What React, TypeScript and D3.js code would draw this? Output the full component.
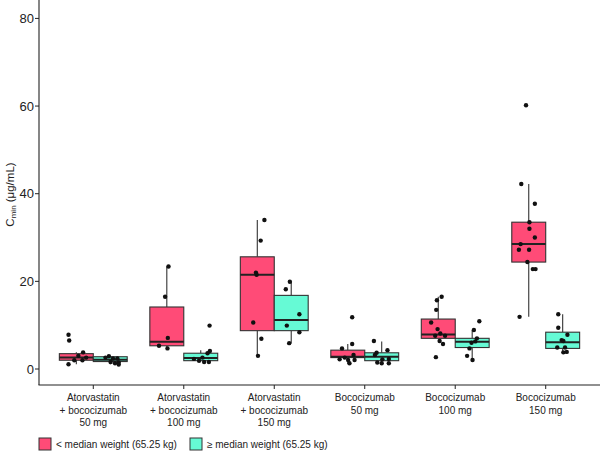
import React from "react";
import * as d3 from "d3";

const categories: string[][] = [
  ["Atorvastatin", "+ bococizumab", "50 mg"],
  ["Atorvastatin", "+ bococizumab", "100 mg"],
  ["Atorvastatin", "+ bococizumab", "150 mg"],
  ["Bococizumab", "50 mg"],
  ["Bococizumab", "100 mg"],
  ["Bococizumab", "150 mg"],
];

const seriesNames = ["< median weight (65.25 kg)", "≥ median weight (65.25 kg)"];
const seriesColors = ["#FF4B77", "#66FAD5"];

// [q1, median, q3, whiskerLow, whiskerHigh]
const lowStats: number[][] = [
  [2.0, 2.6, 3.5, 1.1, 3.8],
  [5.3, 6.2, 14.15, 4.7, 23.4],
  [8.75, 21.5, 25.6, 3.0, 34.0],
  [2.6, 2.8, 4.3, 1.3, 5.7],
  [7.0, 7.9, 11.4, 7.0, 16.5],
  [24.4, 28.5, 33.5, 11.9, 42.2],
];
const highStats: number[][] = [
  [1.7, 2.1, 2.8, 1.1, 3.0],
  [1.9, 2.5, 3.6, 1.8, 4.3],
  [8.75, 11.2, 16.8, 5.9, 19.9],
  [1.9, 2.8, 3.7, 1.3, 6.3],
  [4.9, 6.2, 7.0, 2.05, 8.9],
  [4.7, 6.1, 8.4, 3.7, 12.5],
];

// individual observations
const lowValues: number[][] = [
  [7.8, 6.5, 1.1, 3.8, 3.0, 2.0, 2.0, 2.6],
  [23.4, 16.5, 7.1, 5.3, 4.7],
  [34.0, 29.3, 22.0, 21.5, 10.6, 6.9, 3.0],
  [11.8, 5.7, 4.7, 3.2, 2.6, 2.2, 2.05, 2.05, 1.3],
  [16.5, 15.7, 13.5, 10.6, 9.1, 8.1, 7.6, 7.6, 6.4, 5.7, 2.7],
  [60.2, 42.2, 37.7, 33.5, 32.0, 30.0, 28.5, 27.2, 27.2, 24.4, 22.8, 22.8, 11.9],
];
// horizontal jitter of each observation (fraction of box width)
const lowJitter: number[][] = [
  [-0.23, -0.21, -0.23, 0.2, 0.06, -0.06, 0.18, 0.29],
  [0.05, -0.05, 0.03, -0.23, 0.02],
  [0.21, 0.1, -0.04, -0.02, -0.12, 0.12, 0.02],
  [0.13, 0.13, -0.17, 0.17, -0.09, -0.24, 0.01, 0.2, 0.05],
  [0.1, -0.04, -0.06, -0.21, -0.02, 0.06, -0.09, 0.2, 0.04, 0.14, -0.07],
  [-0.08, -0.22, 0.18, 0.02, 0.02, 0.18, -0.24, -0.29, 0.01, -0.04, 0.12, 0.2, -0.27],
];
const highValues: number[][] = [
  [2.9, 2.4, 2.4, 1.5, 1.3, 1.6, 1.0, 2.6],
  [9.9, 4.1, 3.6, 2.6, 2.3, 1.9, 1.6, 1.6],
  [19.9, 18.2, 12.5, 9.9, 8.4, 5.9],
  [6.4, 4.3, 3.7, 3.2, 2.3, 2.2, 1.5, 1.3, 1.3],
  [10.9, 8.9, 7.0, 6.3, 6.0, 4.7, 3.0, 2.05],
  [12.5, 9.4, 7.8, 6.6, 6.4, 4.9, 4.9, 3.8, 3.9],
];
const highJitter: number[][] = [
  [-0.04, 0.08, 0.21, 0.25, 0.14, 0.01, 0.25, -0.14],
  [0.26, 0.27, 0.2, 0.05, -0.2, -0.05, 0.24, 0.1],
  [-0.04, -0.16, 0.24, -0.13, 0.24, -0.06],
  [-0.23, 0.17, -0.15, -0.2, 0.21, 0.02, -0.13, 0.0, 0.21],
  [0.21, 0.05, 0.14, 0.09, -0.02, -0.08, -0.15, 0.01],
  [-0.13, -0.13, 0.14, -0.03, 0.02, -0.16, 0.07, 0.02, 0.12],
];

const yTicks = [0, 20, 40, 60, 80];

const W = 600;
const H = 454;
const FONT = "'Liberation Sans', Arial, Helvetica, sans-serif";

export default function App() {
  const left = 39;
  const right = 600;
  const bottom = 385;
  const top = 0;

  const idx = categories.map((_, i) => String(i));
  const x = d3.scalePoint<string>().domain(idx).range([left, right]).padding(0.6);
  const step = x.step();
  const bw = step * 0.375;
  const y = d3.scaleLinear().domain([-3.65, 84.2]).range([bottom, top]);

  const series = [
    { stats: lowStats, values: lowValues, jitter: lowJitter, color: seriesColors[0], off: -bw / 2 },
    { stats: highStats, values: highValues, jitter: highJitter, color: seriesColors[1], off: bw / 2 },
  ];

  return (
    <svg
      width={W}
      height={H}
      viewBox={`0 0 ${W} ${H}`}
      style={{ position: "absolute", left: 0, top: 0, display: "block", background: "#fff" }}
      fontFamily={FONT}
    >
      {/* boxes */}
      {series.map((s, si) =>
        s.stats.map((st, gi) => {
          const cx = (x(String(gi)) as number) + s.off;
          const [q1, med, q3, lo, hi] = st;
          return (
            <g key={`b${si}-${gi}`}>
              <line x1={cx} x2={cx} y1={y(hi)} y2={y(q3)} stroke="#333" strokeWidth={1.1} />
              <line x1={cx} x2={cx} y1={y(q1)} y2={y(lo)} stroke="#333" strokeWidth={1.1} />
              <rect
                x={cx - bw / 2}
                y={y(q3)}
                width={bw}
                height={y(q1) - y(q3)}
                fill={s.color}
                stroke="#333"
                strokeWidth={1.1}
              />
              <line x1={cx - bw / 2} x2={cx + bw / 2} y1={y(med)} y2={y(med)} stroke="#222" strokeWidth={2} />
            </g>
          );
        })
      )}
      {/* points */}
      {series.map((s, si) =>
        s.values.map((vals, gi) => {
          const cx = (x(String(gi)) as number) + s.off;
          return vals.map((v, k) => (
            <circle key={`p${si}-${gi}-${k}`} cx={cx + s.jitter[gi][k] * bw} cy={y(v)} r={2.2} fill="#111" />
          ));
        })
      )}
      {/* axes */}
      <line x1={left} x2={left} y1={top} y2={bottom} stroke="#222" strokeWidth={1.1} />
      <line x1={left - 0.5} x2={right} y1={bottom} y2={bottom} stroke="#222" strokeWidth={1.1} />
      {yTicks.map((t) => (
        <g key={`yt${t}`}>
          <line x1={left - 4} x2={left} y1={y(t)} y2={y(t)} stroke="#222" strokeWidth={1} />
          <text x={left - 5} y={y(t)} dy="0.35em" textAnchor="end" fontSize={13} fill="#222">
            {t}
          </text>
        </g>
      ))}
      {categories.map((lines, i) => {
        const px = x(String(i)) as number;
        return (
          <g key={`xt${i}`}>
            <line x1={px} x2={px} y1={bottom} y2={bottom + 4} stroke="#222" strokeWidth={1} />
            <text textAnchor="middle" fontSize={10} fill="#222">
              {lines.map((l, li) => (
                <tspan key={li} x={px} y={bottom + 16 + li * 12.7}>
                  {l}
                </tspan>
              ))}
            </text>
          </g>
        );
      })}
      {/* y label */}
      <text transform={`translate(14,${(top + bottom) / 2 + 2}) rotate(-90)`} textAnchor="middle" fontSize={11.5} fill="#222">
        C<tspan fontSize={8} dy={2}>min</tspan>
        <tspan dy={-2}> (μg/mL)</tspan>
      </text>
      {/* legend */}
      {seriesNames.map((name, i) => {
        const lx = i === 0 ? 39 : 190;
        return (
          <g key={`lg${i}`}>
            <rect x={lx} y={438} width={12} height={12} fill={seriesColors[i]} stroke="#333" strokeWidth={1} />
            <text x={lx + 17} y={444} dy="0.35em" fontSize={10} fill="#222">
              {name}
            </text>
          </g>
        );
      })}
    </svg>
  );
}
